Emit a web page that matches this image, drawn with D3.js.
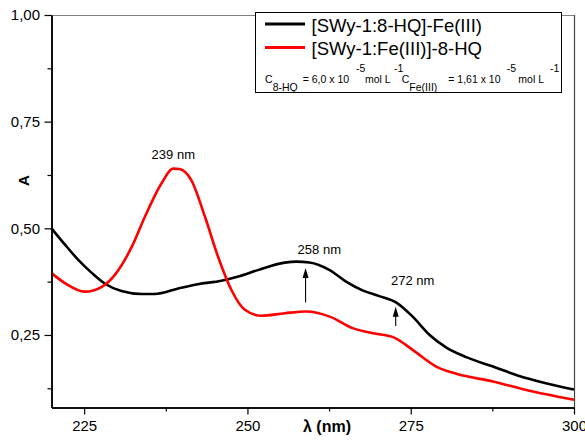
<!DOCTYPE html>
<html>
<head>
<meta charset="utf-8">
<script src="https://cdn.jsdelivr.net/npm/d3@7/dist/d3.min.js"></script>
<style>
  html, body { margin: 0; padding: 0; background: #fff; }
  svg { display: block; font-family: "Liberation Sans", Arial, sans-serif; }
</style>
</head>
<body>
<svg id="chart" width="585" height="441"></svg>
<script>
// ---- data ----
const blackWl = [220, 222.1, 224.1, 226.2, 228.2, 230.7, 233.8, 235.8, 239.4, 242.4, 246.0, 248.6, 251.6, 255.7, 257.5, 259.5, 262.6, 265.1, 267.7, 270.2, 272.8, 275.3, 277.9, 280.4, 283.5, 287.6, 291.6, 295.7, 300];
const blackA  = [0.500, 0.461, 0.426, 0.395, 0.370, 0.353, 0.346, 0.346, 0.359, 0.369, 0.377, 0.387, 0.402, 0.4195, 0.422, 0.420, 0.402, 0.375, 0.354, 0.341, 0.326, 0.293, 0.250, 0.221, 0.198, 0.176, 0.154, 0.137, 0.122];

const redWl = [220, 222.1, 225.1, 227.7, 229.7, 232.3, 234.3, 236.85, 238.6, 239.6, 241.4, 243.5, 245.5, 247.55, 249.6, 252.1, 255.7, 259.0, 262.6, 266.1, 269.2, 272.3, 275.3, 278.9, 282.0, 287.6, 292.7, 300];
const redA  = [0.395, 0.371, 0.3515, 0.363, 0.391, 0.457, 0.527, 0.6055, 0.640, 0.639, 0.613, 0.527, 0.4335, 0.3555, 0.309, 0.295, 0.301, 0.305, 0.293, 0.266, 0.254, 0.245, 0.215, 0.176, 0.159, 0.141, 0.121, 0.098];

const seriesNames = ["[SWy-1:8-HQ]-Fe(III)", "[SWy-1:Fe(III)]-8-HQ"];
const seriesColors = ["#000000", "#ff0000"];

const xMajorTicks = [225, 250, 275, 300];
const xMinorTicks = [237.5, 262.5, 287.5];
const yMajorTicks = [0.25, 0.50, 0.75, 1.00];
const yMinorTicks = [0.125, 0.375, 0.625, 0.875];

const peakLabels = ["239 nm", "258 nm", "272 nm"];
const peakLabelWl = [238.65, 261.0, 275.3];
const peakLabelA  = [0.6625, 0.440, 0.367];

const arrowWl   = [258.9, 272.7];
const arrowFrom = [0.326, 0.271];
const arrowTo   = [0.407, 0.316];

// ---- layout ----
const svg = d3.select("#chart");
const mLeft = 51.5, mRight = 574, mTop = 15, mBottom = 407.5;

const x = d3.scaleLinear().domain([220, 300]).range([mLeft, mRight]);
const y = d3.scaleLinear().domain([0.08, 1.0]).range([mBottom, mTop]);

const fmtY = v => d3.format(".2f")(v).replace(".", ",");

// frame (top & right)
svg.append("line").attr("x1", mLeft).attr("x2", mRight).attr("y1", mTop + 0.5).attr("y2", mTop + 0.5)
  .attr("stroke", "#808080").attr("stroke-width", 1);
svg.append("line").attr("x1", mRight + 0.5).attr("x2", mRight + 0.5).attr("y1", mTop).attr("y2", mBottom)
  .attr("stroke", "#444").attr("stroke-width", 1.2);

// curves
const line = d3.line().x(d => x(d[0])).y(d => y(d[1])).curve(d3.curveMonotoneX);
const series = [d3.zip(blackWl, blackA), d3.zip(redWl, redA)];
series.forEach((s, i) => {
  svg.append("path").datum(s).attr("d", line)
    .attr("fill", "none").attr("stroke", seriesColors[i]).attr("stroke-width", 2.6)
    .attr("stroke-linejoin", "round");
});

// axes
const xAxis = svg.append("g").attr("transform", `translate(0,${mBottom})`)
  .call(d3.axisBottom(x).tickValues(xMajorTicks).tickSize(7).tickSizeOuter(0).tickPadding(6).tickFormat(d3.format("d")));
const xMinor = svg.append("g").attr("transform", `translate(0,${mBottom})`)
  .call(d3.axisBottom(x).tickValues(xMinorTicks).tickSize(4).tickSizeOuter(0).tickFormat(""));
const yAxis = svg.append("g").attr("transform", `translate(${mLeft},0)`)
  .call(d3.axisLeft(y).tickValues(yMajorTicks).tickSize(7).tickSizeOuter(0).tickPadding(4.5).tickFormat(fmtY));
const yMinor = svg.append("g").attr("transform", `translate(${mLeft},0)`)
  .call(d3.axisLeft(y).tickValues(yMinorTicks).tickSize(4).tickSizeOuter(0).tickFormat(""));

[xAxis, xMinor, yAxis, yMinor].forEach(g => {
  g.select(".domain").attr("stroke", "#000").attr("stroke-width", 1.5);
  g.selectAll(".tick line").attr("stroke", "#000").attr("stroke-width", 1.2);
  g.selectAll(".tick text").attr("fill", "#000").style("font-size", "15px")
    .style("font-family", '"Liberation Sans", Arial, sans-serif');
});

// axis titles
svg.append("text").attr("x", 327).attr("y", 432).attr("text-anchor", "middle")
  .style("font-size", "16px").style("font-weight", "bold").text("λ (nm)");
svg.append("text").attr("transform", "translate(28.5,180.5) rotate(-90)").attr("text-anchor", "middle")
  .style("font-size", "15px").style("font-weight", "bold").text("A");

// peak annotations
peakLabels.forEach((t, i) => {
  svg.append("text").attr("x", x(peakLabelWl[i])).attr("y", y(peakLabelA[i]))
    .attr("text-anchor", "middle").style("font-size", "13px").text(t);
});

// arrows
arrowWl.forEach((w, i) => {
  const ax = x(w), y0 = y(arrowFrom[i]), y1 = y(arrowTo[i]);
  svg.append("line").attr("x1", ax).attr("x2", ax).attr("y1", y0).attr("y2", y1 + 8)
    .attr("stroke", "#000").attr("stroke-width", 1.1);
  svg.append("path").attr("d", `M${ax},${y1} L${ax - 3},${y1 + 10} L${ax + 3},${y1 + 10} Z`).attr("fill", "#000");
});

// legend
const lg = svg.append("g");
lg.append("rect").attr("x", 255.5).attr("y", 12.5).attr("width", 306).attr("height", 80)
  .attr("fill", "#fff").attr("stroke", "#000").attr("stroke-width", 1);
const legY = [24, 47.5], legTextY = [32, 55];
seriesNames.forEach((n, i) => {
  lg.append("line").attr("x1", 265).attr("x2", 305).attr("y1", legY[i]).attr("y2", legY[i])
    .attr("stroke", seriesColors[i]).attr("stroke-width", 3);
  lg.append("text").attr("x", 311.5).attr("y", legTextY[i]).style("font-size", "18.5px").text(n);
});
const concPieces = [
  ["C", 265, 82.5], ["8-HQ", 272.7, 90.5], ["= 6,0 x 10", 302.7, 82.5], ["-5", 356, 72],
  ["mol L", 365, 82.5], ["-1", 394, 72],
  ["C", 401.7, 82.5], ["Fe(III)", 409.3, 90.5], ["= 1,61 x 10", 448.3, 82.5], ["-5", 506.7, 72],
  ["mol L", 518.3, 82.5], ["-1", 550, 72]
];
concPieces.forEach(p => {
  lg.append("text").attr("x", p[1]).attr("y", p[2]).style("font-size", "10.5px").text(p[0]);
});
</script>
</body>
</html>
